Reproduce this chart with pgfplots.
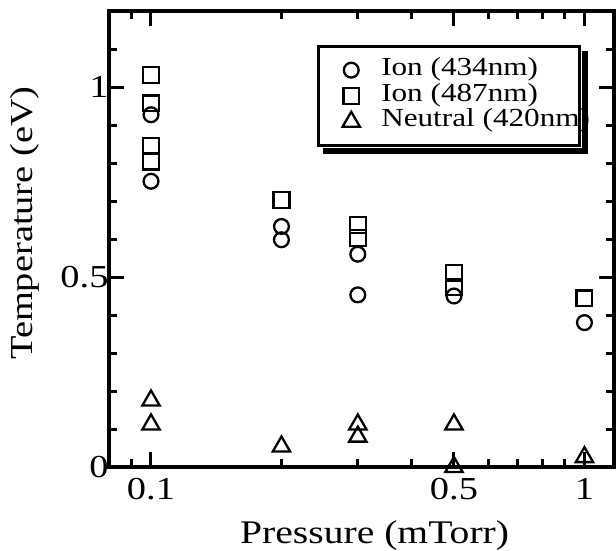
\documentclass[border=0pt]{standalone}
\usepackage{pgfplots}
\pgfplotsset{compat=1.18}
\usepackage{fontspec}
\setmainfont[FakeStretch=1.2]{Liberation Serif}
\begin{document}
\begin{tikzpicture}
\useasboundingbox (-109pt,-83pt) rectangle (507pt,467pt);
\begin{axis}[
  at={(0pt,0pt)}, anchor=south west,
  scale only axis, width=505pt, height=456pt,
  xmode=log, log basis x=10,
  xmin=0.08, xmax=1.17, ymin=0, ymax=1.2,
  clip=false,
  xtick={0.1,0.5,1}, xticklabels={0.1,0.5,1},
  minor xtick={0.09,0.2,0.3,0.4,0.6,0.7,0.8,0.9},
  ytick={0,0.5,1}, yticklabels={0,0.5,1},
  minor ytick={0.1,0.2,0.3,0.4,0.6,0.7,0.8,0.9,1.1},
  tick align=inside,
  major tick length=15pt, minor tick length=8pt,
  every tick/.style={line width=3pt, black},
  axis line style={line width=3.5pt},
  tick label style={font=\fontsize{32}{32}\selectfont},
  xticklabel style={yshift=-8pt},
  yticklabel style={xshift=3pt},
  xlabel={Pressure (mTorr)},
  ylabel={Temperature (eV)},
  xlabel style={font=\fontsize{33}{33}\selectfont, at={(axis description cs:0.526,0)}, anchor=base, yshift=-76pt},
  ylabel style={font=\fontsize{32}{32}\selectfont, at={(axis description cs:-0.166,0.535)}, anchor=center},
  legend style={name=leg, at={(axis description cs:0.4119,0.9254)}, anchor=north west,
    draw=black, line width=2.5pt, fill=white,
    inner xsep=23pt, inner ysep=11pt, row sep=0pt, column sep=20pt,
    font=\fontsize{26}{26}\selectfont,
    nodes={inner sep=0pt, text height=18pt, text depth=7.8pt}},
  legend cell align=left,
  legend image code/.code={\path[draw=none, fill=none] (0pt,-10pt) rectangle (20pt,10pt); \draw[#1, fill=none] plot coordinates {(10pt,0pt)};},
]
\addplot[only marks, mark=o, mark size=7.4pt, line width=2.3pt, black] coordinates {
(0.1,0.927) (0.1,0.752)
(0.2,0.633) (0.2,0.598)
(0.3,0.560) (0.3,0.453)
(0.5,0.450)
(1,0.380)
};
\addlegendentry{\makebox[175pt][l]{Ion (434nm)}}
\addplot[only marks, mark=square, mark size=7.9pt, line width=2.3pt, black] coordinates {
(0.1,1.032) (0.1,0.957) (0.1,0.845) (0.1,0.804)
(0.2,0.702)
(0.3,0.637) (0.3,0.602)
(0.5,0.510) (0.5,0.474)
(1,0.444)
};
\addlegendentry{\makebox[175pt][l]{Ion (487nm)}}
\addplot[only marks, mark=triangle, mark size=10pt, line width=2.3pt, black] coordinates {
(0.1,0.175) (0.1,0.112)
(0.2,0.054)
(0.3,0.112) (0.3,0.080)
(0.5,0.112) (0.5,0.0)
(1,0.026)
};
\addlegendentry{\makebox[175pt][l]{Neutral (420nm)}}
\end{axis}
\fill[black] ([shift={(1.25pt,-6pt)}]leg.north east) rectangle ([shift={(7.25pt,-7.25pt)}]leg.south east);
\fill[black] ([shift={(6pt,-1.25pt)}]leg.south west) rectangle ([shift={(7.25pt,-7.25pt)}]leg.south east);
\end{tikzpicture}
\end{document}
